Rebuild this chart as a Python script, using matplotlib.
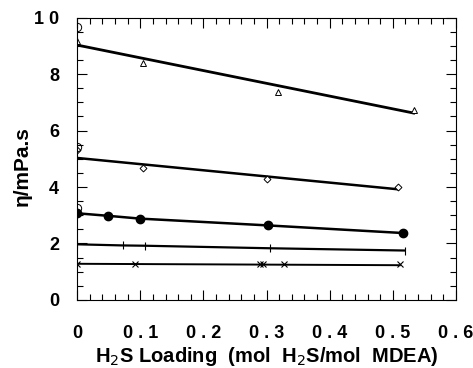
import numpy as np
from matplotlib import pyplot as plt
from matplotlib.ticker import MultipleLocator, FixedLocator, FixedFormatter

plt.rcParams['font.family'] = ['Liberation Sans', 'DejaVu Sans']

# measured points (H2S loading, viscosity mPa.s)
tri_x = [0.0, 0.105, 0.318, 0.533]
tri_y = [9.18, 8.39, 7.36, 6.72]
tri_fit_x = [0.0, 0.533]
tri_fit_y = [9.03, 6.62]

dia_x = [0.0, 0.105, 0.30, 0.508]
dia_y = [5.30, 4.68, 4.28, 4.01]
dia_fit_x = [0.0, 0.508]
dia_fit_y = [5.03, 3.92]

fc_x = [0.0, 0.049, 0.10, 0.302, 0.516]
fc_y = [3.07, 2.98, 2.88, 2.64, 2.37]

plus_x = [0.0, 0.073, 0.107, 0.306, 0.519]
plus_y = [1.97, 1.93, 1.92, 1.83, 1.75]

cross_x = [0.0, 0.091, 0.29, 0.295, 0.328, 0.511]
cross_y = [1.28, 1.28, 1.27, 1.27, 1.27, 1.26]
cross_fit_x = [0.0, 0.511]
cross_fit_y = [1.28, 1.23]

# pure-solvent literature values at zero loading
oc_x = [0.0, 0.0, 0.0]
oc_y = [9.66, 5.42, 3.27]

xticks = [0, 0.1, 0.2, 0.3, 0.4, 0.5, 0.6]
xlabels = ['0', '0 . 1', '0 . 2', '0 . 3', '0 . 4', '0 . 5', '0 . 6']
yticks = [0, 2, 4, 6, 8, 10]
ylabels = ['0', '2', '4', '6', '8', '1 0']

fig = plt.figure(figsize=(4.73, 3.68), dpi=100)
ax = fig.add_axes([0.163, 0.185, 0.801, 0.767])

k = 'black'
ax.plot(tri_fit_x, tri_fit_y, color=k, lw=2.0)
ax.plot(tri_x, tri_y, ls='none', marker='^', ms=5, mfc='white', mec=k, mew=0.7)
ax.plot(dia_fit_x, dia_fit_y, color=k, lw=1.8)
ax.plot(dia_x, dia_y, ls='none', marker='D', ms=3.5, mfc='white', mec=k, mew=0.7)
ax.plot(fc_x, fc_y, color=k, lw=1.8, marker='o', ms=6)
ax.plot(plus_x, plus_y, color=k, lw=1.6, marker='|', ms=6, mew=0.8)
ax.plot(cross_fit_x, cross_fit_y, color=k, lw=1.4)
ax.plot(cross_x, cross_y, ls='none', marker='x', ms=4, mew=0.8, color=k)
ax.plot(oc_x, oc_y, ls='none', marker='o', ms=6, mfc='none', mec=k, mew=0.7)

ax.set_xlim(0, 0.6)
ax.set_ylim(0, 10)
ax.xaxis.set_major_locator(FixedLocator(xticks))
ax.xaxis.set_major_formatter(FixedFormatter(xlabels))
ax.yaxis.set_major_locator(FixedLocator(yticks))
ax.yaxis.set_major_formatter(FixedFormatter(ylabels))
ax.xaxis.set_minor_locator(MultipleLocator(0.02))
ax.yaxis.set_minor_locator(MultipleLocator(0.5))
ax.tick_params(which='both', direction='in', top=True, right=True, width=0.8)
ax.tick_params(which='major', length=7, labelsize=13)
ax.tick_params(axis='x', which='major', pad=18)
ax.tick_params(axis='y', which='major', pad=13)
ax.tick_params(which='minor', length=4)
for lab in ax.get_xticklabels() + ax.get_yticklabels():
    lab.set_fontweight('bold')
for s in ax.spines.values():
    s.set_linewidth(0.8)

ax.set_xlabel('H$_2$S Loading  (mol  H$_2$S/mol  MDEA)', fontsize=14.5, fontweight='bold', labelpad=2)
ax.set_ylabel('η/mPa.s', fontsize=15, fontweight='bold')
ax.yaxis.set_label_coords(-0.12, 0.475)

fig.savefig('out.png', dpi=100)
